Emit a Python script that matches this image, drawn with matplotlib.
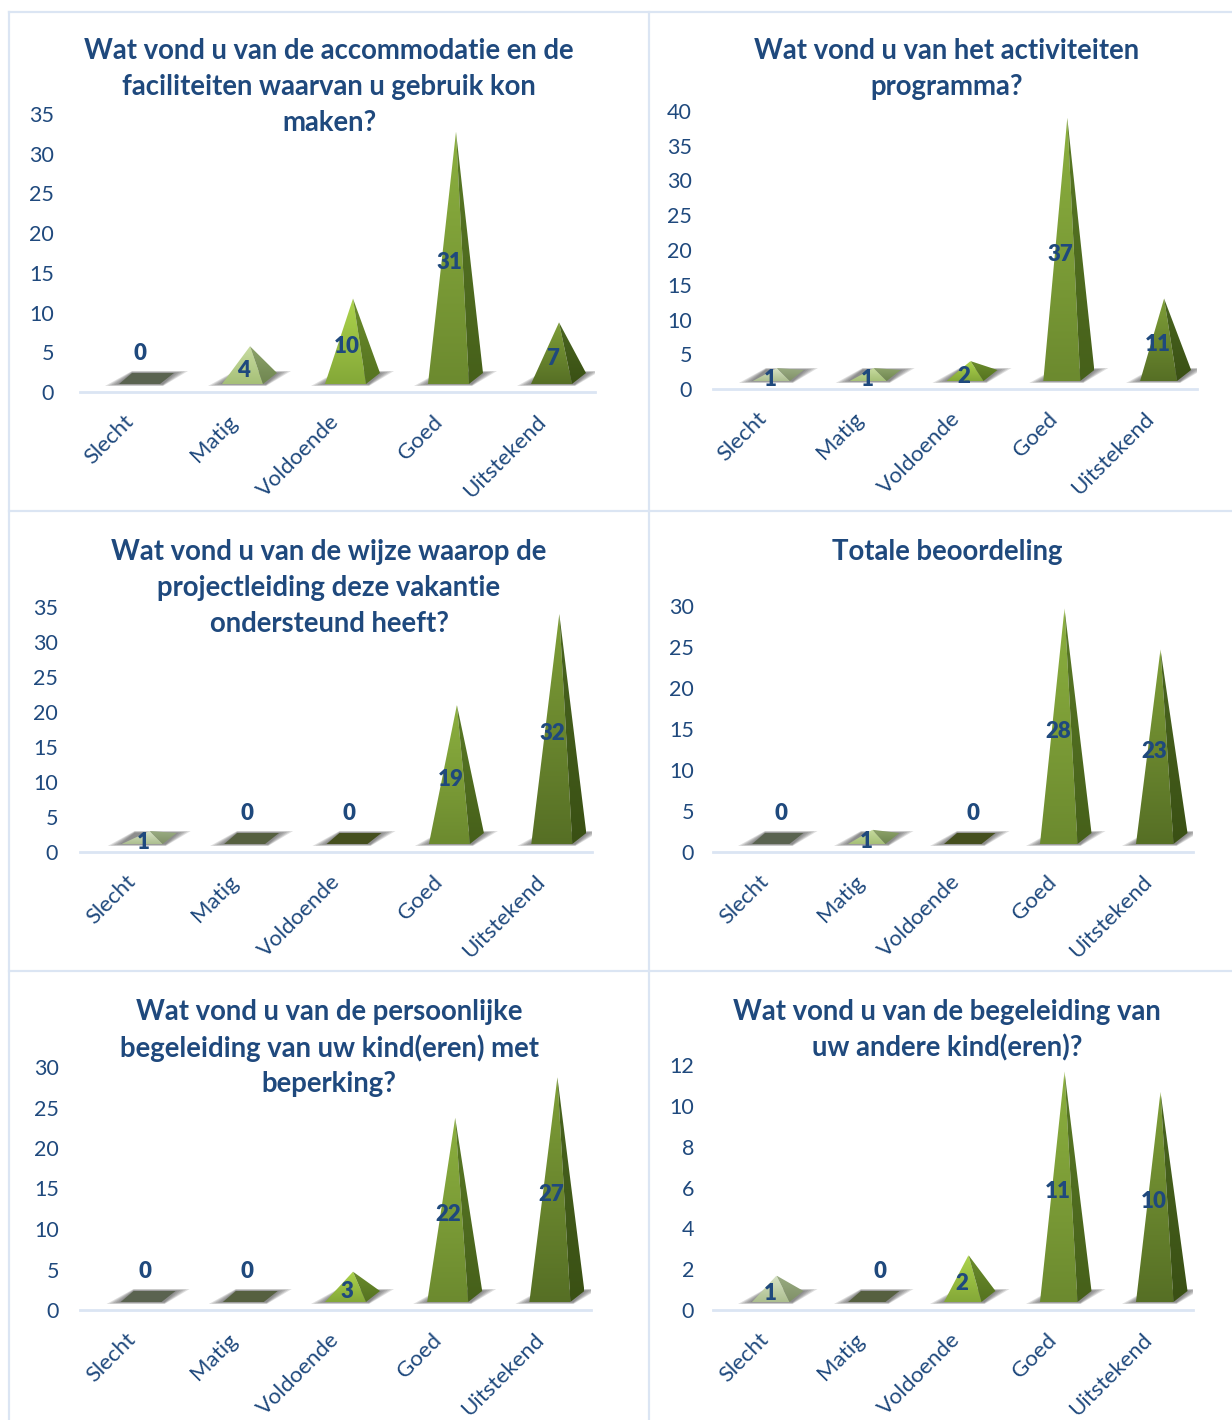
import numpy as np
import matplotlib
matplotlib.use("Agg")
import matplotlib.pyplot as plt
from matplotlib.colors import LinearSegmentedColormap
from matplotlib.patches import Polygon
from matplotlib.transforms import ScaledTranslation

plt.rcParams["font.family"] = ["Lato", "DejaVu Sans"]

W, H = 1232, 1420
BLUE = "#1f497d"
LINE = "#dbe5f3"

categories = ["Slecht", "Matig", "Voldoende", "Goed", "Uitstekend"]

title_1 = ["Wat vond u van de accommodatie en de", "faciliteiten waarvan u gebruik kon", "maken?"]
title_2 = ["Wat vond u van het activiteiten", "programma?"]
title_3 = ["Wat vond u van de wijze waarop de", "projectleiding deze vakantie", "ondersteund heeft?"]
title_4 = ["Totale beoordeling"]
title_5 = ["Wat vond u van de persoonlijke", "begeleiding van uw kind(eren) met", "beperking?"]
title_6 = ["Wat vond u van de begeleiding van", "uw andere kind(eren)?"]

values_1 = [0, 4, 10, 31, 7]
values_2 = [1, 1, 2, 37, 11]
values_3 = [1, 0, 0, 19, 32]
values_4 = [0, 1, 0, 28, 23]
values_5 = [0, 0, 3, 22, 27]
values_6 = [1, 0, 2, 11, 10]

ticks_1 = [0, 5, 10, 15, 20, 25, 30, 35]
ticks_2 = [0, 5, 10, 15, 20, 25, 30, 35, 40]
ticks_3 = [0, 5, 10, 15, 20, 25, 30, 35]
ticks_4 = [0, 5, 10, 15, 20, 25, 30]
ticks_5 = [0, 5, 10, 15, 20, 25, 30]
ticks_6 = [0, 2, 4, 6, 8, 10, 12]

# colours per category: front top, front bottom, side top, side bottom, flat (zero) colour
face_colors = [
    ("#d8e3c6", "#adbf90", "#9aac82", "#7f9067", "#5a6350"),
    ("#c8dca0", "#a6c078", "#8da36a", "#6f8650", "#566040"),
    ("#add44c", "#84a838", "#6b8c2c", "#557320", "#454f1e"),
    ("#8cb03f", "#6c8a2f", "#5a7a26", "#46601a", "#4a5a22"),
    ("#7f9f38", "#566f25", "#4a6620", "#3a5014", "#404e1a"),
]

# panel geometry in pixels: axis left, axis right, y of zero, y of top tick,
# title centre x, first title line y, tick label right edge,
# bar shift, left half width of the base, x offset of the "0" labels, x offset of the tick labels
panels = [
    (title_1, values_1, ticks_1, 80, 595, 392, 114, 329, 51, 54, 0, 12.5, 9, -8),
    (title_2, values_2, ticks_2, 713, 1197, 389, 111, 947, 51, 692, 0, 8.5, 20, -5),
    (title_3, values_3, ticks_3, 80, 592, 852, 607, 329, 552, 58, 3, 12.5, 13, -6),
    (title_4, values_4, ticks_4, 713, 1193, 852, 606, 947, 552, 694, 0, 9, 20, -3),
    (title_5, values_5, ticks_5, 80, 591, 1310, 1067, 329, 1012, 59, 2, 12.5, 14, -6),
    (title_6, values_6, ticks_6, 713, 1193, 1310, 1065, 947, 1012, 694, 0, 9, 23, -3),
]

fig = plt.figure(figsize=(W / 100, H / 100), dpi=100, facecolor="white")


def fig_line(x0, y0, x1, y1):
    fig.add_artist(plt.Line2D([x0 / W, x1 / W], [1 - y0 / H, 1 - y1 / H],
                              color=LINE, lw=1.6, transform=fig.transFigure))


fig_line(9, 12, W, 12)
fig_line(9, 511, W, 511)
fig_line(9, 971, W, 971)
fig_line(9, 12, 9, H)
fig_line(649, 12, 649, H)


def gradient_face(ax, pts, c_top, c_bottom):
    cmap = LinearSegmentedColormap.from_list("f", [c_top, c_bottom])
    xs = [p[0] for p in pts]
    ys = [p[1] for p in pts]
    grad = np.linspace(0, 1, 128).reshape(-1, 1)
    im = ax.imshow(grad, cmap=cmap, aspect="auto", zorder=3, interpolation="bilinear",
                   extent=(min(xs), max(xs), min(ys), max(ys)), origin="upper")
    poly = Polygon(pts, closed=True, transform=ax.transData, fc="none", ec="none")
    ax.add_patch(poly)
    im.set_clip_path(poly)


def draw_bar(ax, i, v, px_x, px_y, bar_dx, half_left, zero_dx):
    x = i + 0.5
    xa = x + (bar_dx - half_left) * px_x
    xb = x + (bar_dx + 28.5) * px_x
    xc = x + (bar_dx + 42.5) * px_x
    y_front = 8 * px_y
    y_back = 19 * px_y
    y_mid = 14 * px_y
    cols = face_colors[i]

    # soft shadow around the base, layered to fake the blur
    for g in (14, 11, 8, 5, 2):
        grow = g / 7 * px_y
        shadow = [(xa - g * px_x, y_front - grow),
                  (xb + 3 * px_x, y_front - grow),
                  (xc + g * px_x, y_back + grow),
                  (xa + 13 * px_x, y_back + grow)]
        ax.add_patch(Polygon(shadow, closed=True, fc="#444444", ec="none", alpha=0.17, zorder=2))

    if v == 0:
        flat = [(xa, y_front), (xb, y_front), (xc, y_back), (xa + 13 * px_x, y_back)]
        ax.add_patch(Polygon(flat, closed=True, fc=cols[4], ec="none", zorder=3))
        ax.text(x + zero_dx * px_x, 39 * px_y, "0", color=BLUE, fontsize=16, fontweight="heavy",
                ha="center", va="center", zorder=5)
        return

    apex = (x + (bar_dx + 15.5) * px_x, y_mid + v)
    gradient_face(ax, [(xa, y_front), (xb, y_front), apex], cols[0], cols[1])
    gradient_face(ax, [(xb, y_front), (xc, y_back), apex], cols[2], cols[3])
    ax.text(x + (bar_dx + 9) * px_x, y_mid + v / 2 - 8 * px_y, str(v), color=BLUE, fontsize=16,
            fontweight="heavy", ha="center", va="center", zorder=5)


for (title, values, ticks, left, right, y0, ytop, tx, ty, tick_edge,
     bar_dx, half_left, zero_dx, label_dx) in panels:
    ax = fig.add_axes([left / W, 1 - y0 / H, (right - left) / W, (y0 - ytop) / H])
    ax.patch.set_alpha(0)
    px_x = 5 / (right - left)
    px_y = ticks[-1] / (y0 - ytop)

    for i, v in enumerate(values):
        draw_bar(ax, i, v, px_x, px_y, bar_dx, half_left, zero_dx)

    ax.set_xlim(0, 5)
    ax.set_ylim(0, ticks[-1])
    for s in ("top", "right", "left"):
        ax.spines[s].set_visible(False)
    ax.spines["bottom"].set_color(LINE)
    ax.spines["bottom"].set_linewidth(2)

    ax.set_yticks(ticks)
    ax.tick_params(axis="y", length=0, pad=(left - tick_edge) * 0.72, labelsize=15.5, labelcolor=BLUE)
    ax.set_xticks(np.arange(5) + 0.5)
    ax.set_xticklabels(categories, rotation=45, ha="right", va="top", rotation_mode="anchor")
    ax.tick_params(axis="x", length=0, pad=12, labelsize=16, labelcolor=BLUE)
    shift = ScaledTranslation(label_dx / 100, -3 / 100, fig.dpi_scale_trans)
    for lab in ax.get_xticklabels():
        lab.set_transform(lab.get_transform() + shift)

    for k, line in enumerate(title):
        fig.text(tx / W, 1 - (ty + 36 * k) / H, line, color=BLUE, fontsize=19.85,
                 fontweight="bold", ha="center", va="center")

fig.savefig("out.png", dpi=100)
